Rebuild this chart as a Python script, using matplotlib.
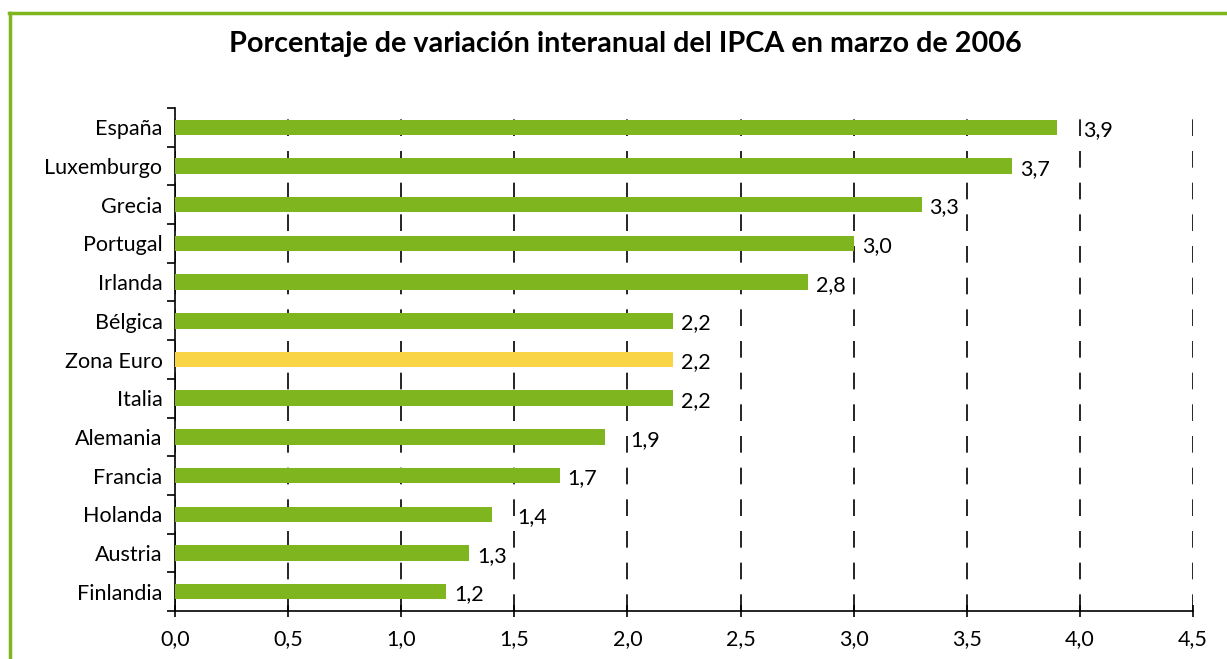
import matplotlib
matplotlib.use("Agg")
import matplotlib.pyplot as plt
from matplotlib.ticker import FixedLocator, MultipleLocator
from matplotlib.lines import Line2D

countries = ["España", "Luxemburgo", "Grecia", "Portugal", "Irlanda", "Bélgica",
             "Zona Euro", "Italia", "Alemania", "Francia", "Holanda", "Austria", "Finlandia"]
values = [3.9, 3.7, 3.3, 3.0, 2.8, 2.2, 2.2, 2.2, 1.9, 1.7, 1.4, 1.3, 1.2]
highlight = "Zona Euro"
title = "Porcentaje de variación interanual del IPCA en marzo de 2006"

GREEN = "#7FB51F"
YELLOW = "#F9D546"
FS = 15.5

plt.rcParams['font.family'] = ['Lato', 'DejaVu Sans']

fig = plt.figure(figsize=(12.27, 6.59), dpi=100)
ax = fig.add_axes([175/1227, 1 - 611/659, (1193-175)/1227, (611-108)/659])

n = len(countries)
ys = list(range(n))[::-1]
colors = [YELLOW if c == highlight else GREEN for c in countries]
ax.barh(ys, values, height=0.4, color=colors, zorder=3)

ax.set_xlim(0, 4.5)
ax.set_ylim(-0.5, n - 0.5)

grid_step = 0.5
px_per_unit = (1193 - 175) / 4.5
for y, v in zip(ys, values):
    off = 8
    # shift a label past a gridline that it would overlap
    nxt = (int(v / grid_step) + 1) * grid_step
    if nxt - v < (8 + 30) / px_per_unit:
        off = (nxt - v) * px_per_unit + 3
    ax.annotate(f"{v:.1f}".replace(".", ","), (v, y), xytext=(off * 0.72, -2),
                textcoords="offset points", va="center", ha="left",
                fontsize=FS, zorder=4)

ax.set_yticks(ys)
ax.set_yticklabels(countries, fontsize=FS)
ax.yaxis.set_minor_locator(FixedLocator([i - 0.5 for i in range(n + 1)]))
ax.tick_params(axis='y', which='major', length=0, pad=9)
ax.tick_params(axis='y', which='minor', length=6, width=1.2, direction='out')

ax.xaxis.set_major_locator(MultipleLocator(0.5))
ax.set_xticklabels([f"{t:.1f}".replace(".", ",") for t in ax.get_xticks()], fontsize=FS)
ax.tick_params(axis='x', length=8, width=1.2, direction='inout', pad=9)

for sp in ["top", "right"]:
    ax.spines[sp].set_visible(False)
for sp in ["left", "bottom"]:
    ax.spines[sp].set_linewidth(1.2)

ax.grid(axis='x', color='black', linestyle=(0, (10, 9)), linewidth=1.2, zorder=1)
ax.set_axisbelow(True)

fig.text(625/1227, 1 - 44/659, title, ha='center', va='center',
         fontsize=20.7, fontweight='bold')

fig.add_artist(Line2D([10/1227, 10/1227], [0, 1 - 13/659], color=GREEN, lw=2.5,
                      transform=fig.transFigure))
fig.add_artist(Line2D([9/1227, 1], [1 - 13/659, 1 - 13/659], color=GREEN, lw=2.5,
                      transform=fig.transFigure))

fig.savefig("out.png", dpi=100)
